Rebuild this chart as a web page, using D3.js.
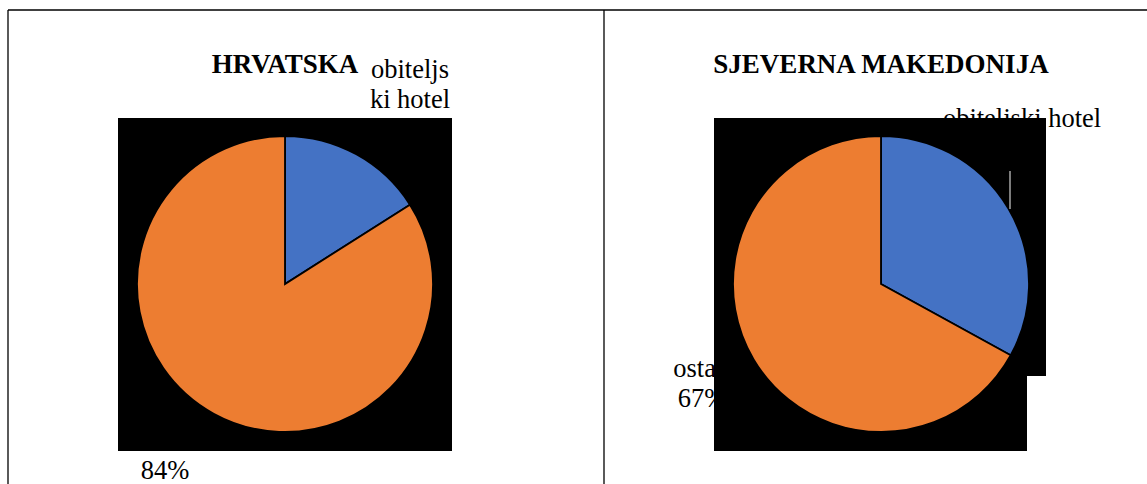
<!DOCTYPE html>
<html>
<head>
<meta charset="utf-8">
<script src="https://cdn.jsdelivr.net/npm/d3@7"></script>
<style>
	html, body { margin: 0; padding: 0; background: #fff; }
	svg { display: block; }
	text { font-family: "Liberation Serif", "Times New Roman", serif; fill: #000; }
</style>
</head>
<body>
<svg id="chart" width="1147" height="484"></svg>
<script>
// data
const categories = ["obiteljski hotel", "ostali"];
const titles = ["HRVATSKA", "SJEVERNA MAKEDONIJA"];
const hrvatskaValues = [16, 84];
const makedonijaValues = [33, 67];
const colors = ["#4472C4", "#ED7D31"];

const svg = d3.select("#chart");

// table lines
svg.append("g")
	.attr("stroke", "#000")
	.attr("stroke-width", 1.3)
	.selectAll("line")
	.data([[8, 10, 1147, 10], [8, 10, 8, 484], [604, 10, 604, 484]])
	.join("line")
	.attr("x1", d => d[0]).attr("y1", d => d[1])
	.attr("x2", d => d[2]).attr("y2", d => d[3]);

// per panel layout (label lines get wrapped like in the original)
const panels = [
	{
		title: titles[0], values: hrvatskaValues, cx: 285, cy: 284, r: 148,
		back: [[118, 118], [452, 118], [452, 451], [118, 451]],
		labels: [
			{ x: 410, y: 78, lines: ["obiteljs", "ki hotel"] },
			{ x: 165, y: 449, lines: [categories[1]] }
		]
	},
	{
		title: titles[1], values: makedonijaValues, cx: 881, cy: 284, r: 148,
		back: [[714, 118], [1046, 118], [1046, 376], [1027, 376], [1027, 451], [714, 451]],
		labels: [
			{ x: 1022, y: 127, lines: [categories[0]] },
			{ x: 702, y: 377, lines: [categories[1]] }
		],
		leader: [1010, 171, 1010, 209]
	}
];

const pie = d3.pie().sort(null);
const arc = d3.arc().innerRadius(0);

panels.forEach(p => {
	const g = svg.append("g");

	g.append("text")
		.attr("x", p.cx)
		.attr("y", 73)
		.attr("text-anchor", "middle")
		.attr("font-size", 27)
		.attr("font-weight", "bold")
		.text(p.title);

	// data labels (sit behind the black plot area, as in the source)
	p.labels.forEach((lab, i) => {
		const lines = lab.lines.concat([p.values[i] + "%"]);
		const t = g.append("text")
			.attr("text-anchor", "middle")
			.attr("font-size", 26.5);
		t.selectAll("tspan")
			.data(lines)
			.join("tspan")
			.attr("x", lab.x)
			.attr("y", (d, j) => lab.y + j * 29.5)
			.text(d => d);
	});

	g.append("path")
		.attr("d", d3.line()(p.back) + "Z")
		.attr("fill", "#000");

	const scale = d3.scaleLinear().domain([0, d3.sum(p.values)]).range([0, 2 * Math.PI]);
	const arcs = pie.value(d => scale(d))(p.values);

	g.append("g")
		.attr("transform", `translate(${p.cx},${p.cy})`)
		.selectAll("path")
		.data(arcs)
		.join("path")
		.attr("d", d => arc.outerRadius(p.r)(d))
		.attr("fill", (d, i) => colors[i])
		.attr("stroke", "#000")
		.attr("stroke-width", 1.8)
		.attr("stroke-linejoin", "miter");

	if (p.leader) {
		g.append("line")
			.attr("x1", p.leader[0]).attr("y1", p.leader[1])
			.attr("x2", p.leader[2]).attr("y2", p.leader[3])
			.attr("stroke", "#a6a6a6")
			.attr("stroke-width", 1.5);
	}
});
</script>
</body>
</html>
